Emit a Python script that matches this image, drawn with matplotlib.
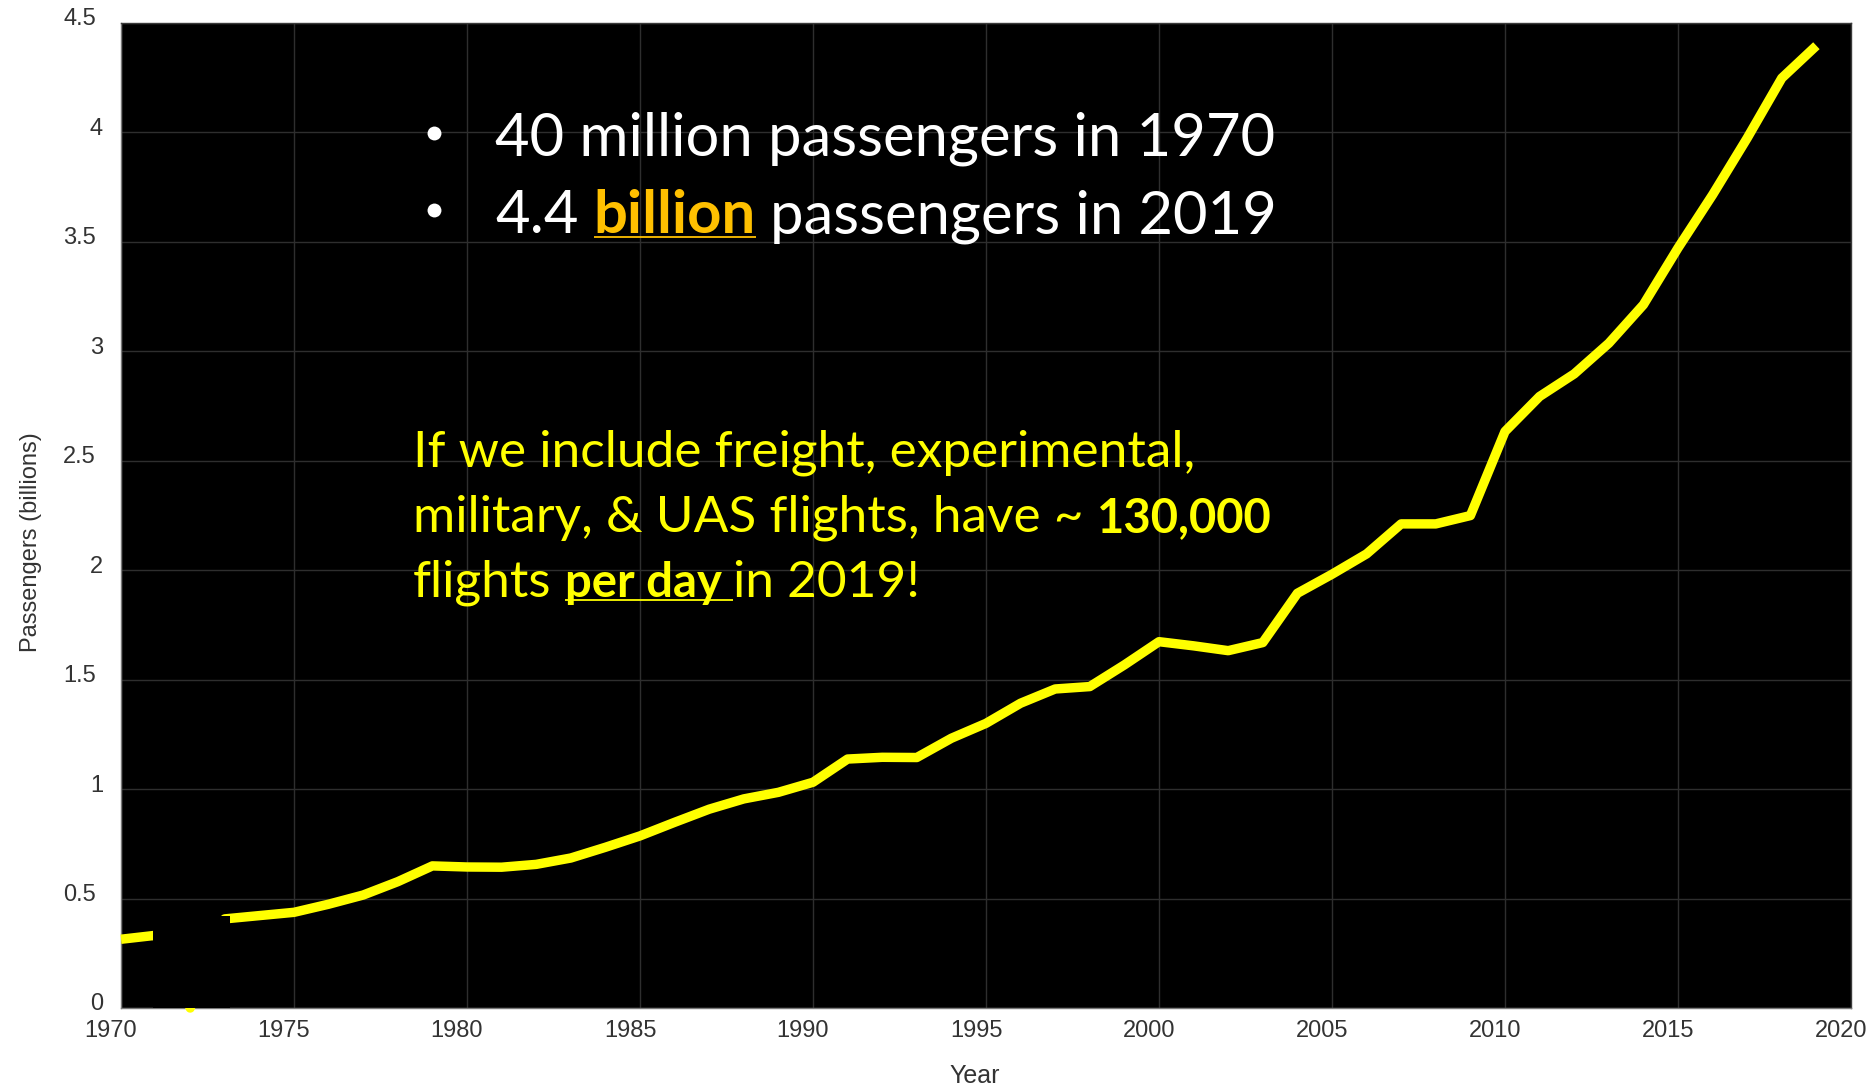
import matplotlib
matplotlib.use("Agg")
import matplotlib.pyplot as plt
import matplotlib.transforms as mtransforms
from matplotlib.lines import Line2D
from matplotlib.patches import Rectangle

# ---- data -----------------------------------------------------------------
years = list(range(1970, 2020))
passengers_bn = [0.314, 0.332, 0.000, 0.407, 0.422, 0.437, 0.474, 0.516, 0.577, 0.649,
                 0.644, 0.643, 0.656, 0.685, 0.734, 0.786, 0.848, 0.908, 0.955, 0.985,
                 1.031, 1.137, 1.145, 1.144, 1.232, 1.300, 1.392, 1.457, 1.468, 1.567,
                 1.673, 1.654, 1.632, 1.669, 1.894, 1.981, 2.074, 2.211, 2.211, 2.249,
                 2.633, 2.793, 2.896, 3.036, 3.212, 3.471, 3.714, 3.973, 4.247, 4.395]

x_ticks = list(range(1970, 2021, 5))
y_ticks = [0, 0.5, 1, 1.5, 2, 2.5, 3, 3.5, 4, 4.5]
y_tick_labels = ["0", "0.5", "1", "1.5", "2", "2.5", "3", "3.5", "4", "4.5"]
x_label = "Year"
y_label = "Passengers (billions)"

YELLOW = "#FFFF00"
GOLD = "#FFC000"
WHITE = "#FFFFFF"

# each line: list of (text, colour, weight, underline)
headline_lines = [
    [("40 million passengers in 1970", WHITE, "normal", None)],
    [("4.4", WHITE, "normal", None),
     ("billion", GOLD, "bold", "word"),
     ("passengers in 2019", WHITE, "normal", None)],
]
note_lines = [
    [("If we include freight, experimental,", YELLOW, "normal", None)],
    [("military, & UAS flights, have ~", YELLOW, "normal", None),
     ("130,000", YELLOW, "bold", None)],
    [("flights", YELLOW, "normal", None),
     ("per day", YELLOW, "bold", "trailing"),
     ("in 2019!", YELLOW, "normal", None)],
]

# ---- figure ---------------------------------------------------------------
W, H, DPI = 1874, 1089, 100
TICK_FONT = "Liberation Sans"
TEXT_FONT = ["Lato", "DejaVu Sans"]


def fx(px):
    return px / W


def fy(py):
    return 1 - py / H


fig = plt.figure(figsize=(W / DPI, H / DPI), dpi=DPI, facecolor="white")
ax = fig.add_axes([fx(121), fy(1008), fx(1851) - fx(121), fy(22.7) - fy(1008)])
ax.set_facecolor("black")

ax.plot(years, passengers_bn, color=YELLOW, lw=6.8, solid_joinstyle="round",
        solid_capstyle="butt", clip_on=False, zorder=3)
# patch of black over the early-1970s segment
ax.add_patch(Rectangle((1970.92, 0), 2.23, 0.42, facecolor="black",
                       edgecolor="none", zorder=4))

ax.set_xlim(1970, 2020)
ax.set_ylim(0, 4.5)
ax.set_xticks(x_ticks)
ax.set_xticklabels([str(x) for x in x_ticks])
ax.set_yticks(y_ticks)
ax.set_yticklabels(y_tick_labels)
ax.grid(True, color="#2e2e2e", lw=1.0)
ax.set_axisbelow(True)

for side in ("left", "bottom"):
    ax.spines[side].set_color("#7a7a7a")
    ax.spines[side].set_linewidth(1.0)
for side in ("top", "right"):
    ax.spines[side].set_color("#3a3a3a")
    ax.spines[side].set_linewidth(1.0)

ax.tick_params(axis="both", length=0, labelsize=17, labelcolor="#333333")
ax.tick_params(axis="x", pad=8.5)
ax.tick_params(axis="y", pad=18)
for lab in ax.get_xticklabels() + ax.get_yticklabels():
    lab.set_family(TICK_FONT)
for lab in ax.get_xticklabels():
    lab.set_transform(lab.get_transform() +
                      mtransforms.ScaledTranslation(-10 / DPI, 0, fig.dpi_scale_trans))
for lab in ax.get_yticklabels():
    dx = 0 if "." in lab.get_text() else 7
    lab.set_transform(lab.get_transform() +
                      mtransforms.ScaledTranslation(dx / DPI, 6 / DPI, fig.dpi_scale_trans))

ax.set_xlabel(x_label, fontsize=18, color="#333333", family=TICK_FONT)
ax.set_ylabel(y_label, fontsize=17, color="#333333", family=TICK_FONT)
ax.xaxis.set_label_coords((975 - 121) / 1730, (1008 - 1064) / 985.3)
ax.yaxis.set_label_coords((41.7 - 121) / 1730, (1008 - 542) / 985.3)

# ---- annotation text --------------------------------------------------------
renderer = fig.canvas.get_renderer()


def space_width(size, weight):
    a = fig.text(0, 0, "n n", fontsize=size, fontweight=weight, family=TEXT_FONT)
    b = fig.text(0, 0, "nn", fontsize=size, fontweight=weight, family=TEXT_FONT)
    w = a.get_window_extent(renderer).width - b.get_window_extent(renderer).width
    a.remove()
    b.remove()
    return w


def draw_rich_line(x0, baseline, segments, size, bold_size, ul_drop, ul_lw):
    x = x0
    for txt, color, weight, underline in segments:
        s = bold_size if weight == "bold" else size
        t = fig.text(fx(x), fy(baseline), txt, color=color, fontsize=s,
                     fontweight=weight, family=TEXT_FONT, ha="left", va="baseline")
        w = t.get_window_extent(renderer).width
        sp = space_width(s, weight)
        if underline:
            end = x + w + (sp if underline == "trailing" else 0)
            fig.add_artist(Line2D([fx(x), fx(end)], [fy(baseline + ul_drop)] * 2,
                                  color=color, lw=ul_lw, solid_capstyle="butt"))
        x += w + sp


head_baselines = [156, 233]
for line, base in zip(headline_lines, head_baselines):
    fig.add_artist(Line2D([fx(434.4)], [fy(base - 23)], marker="o", ms=10,
                          color=WHITE, markeredgewidth=0))
    draw_rich_line(495, base, line, 43, 43, 4, 1.3)

note_baselines = [466.7, 531.7, 596.7]
for line, base in zip(note_lines, note_baselines):
    draw_rich_line(413, base, line, 37, 34, 3, 1.3)

fig.savefig("out.png", dpi=DPI, facecolor="white")
